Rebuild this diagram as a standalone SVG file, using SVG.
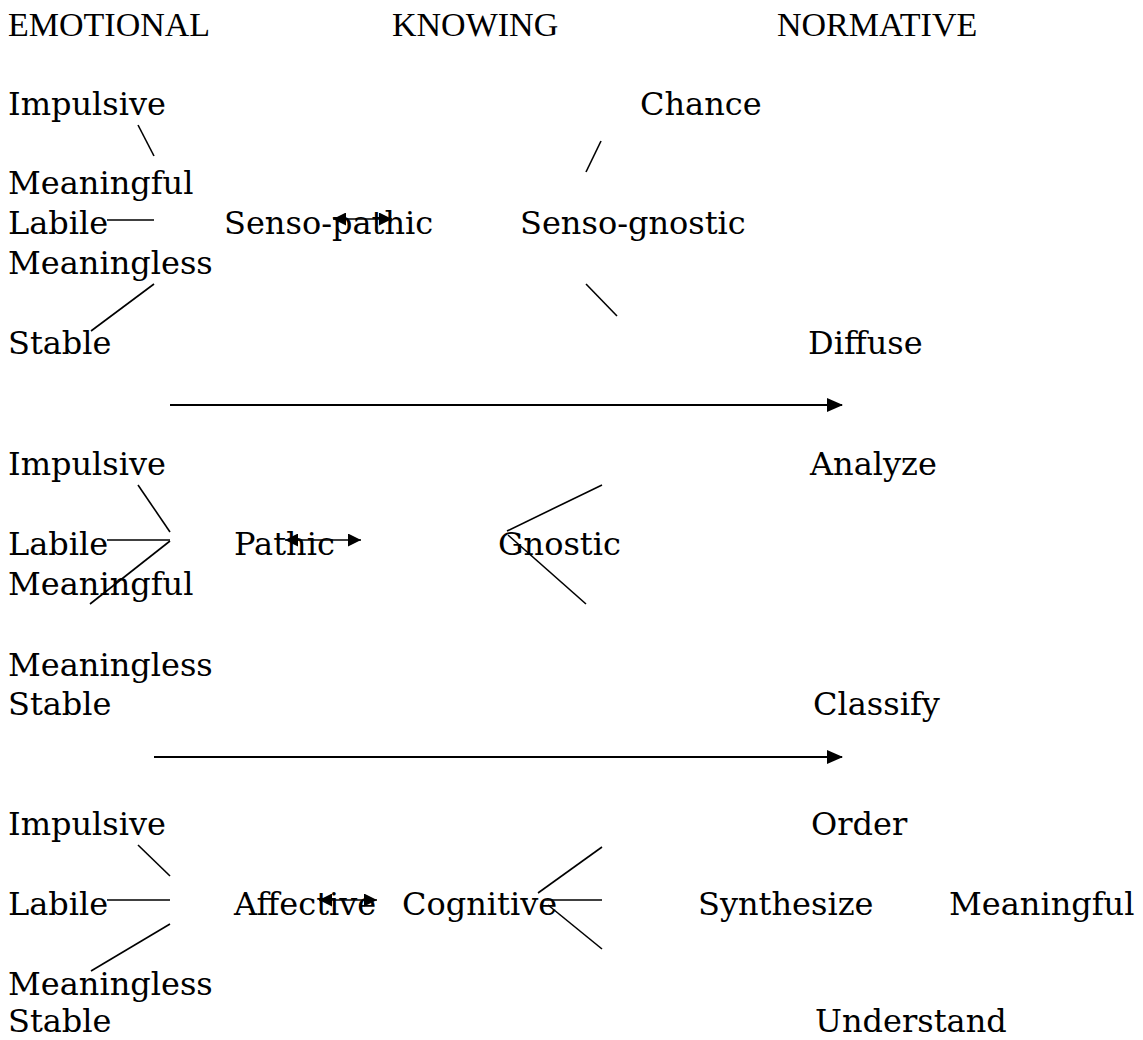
<svg xmlns="http://www.w3.org/2000/svg" width="1143" height="1040" viewBox="0 0 1143 1040">
<style>
.t{font-family:"DejaVu Serif","Liberation Serif",serif;font-size:32px;fill:#000}
.h{font-family:"Liberation Serif","Times New Roman",serif;font-size:34px;fill:#000}
.ln{stroke:#000;stroke-width:1.6;fill:none}
.ar{stroke:#000;stroke-width:2.2;fill:none}
</style>
<defs>
<marker id="big" markerUnits="userSpaceOnUse" markerWidth="16" markerHeight="14" refX="15" refY="7" orient="auto"><path d="M0,0 L16,7 L0,14 Z" fill="#000"/></marker>
<marker id="sEnd" markerUnits="userSpaceOnUse" markerWidth="13" markerHeight="13" refX="13" refY="6.5" orient="auto"><path d="M0,0 L13,6.5 L0,13 Z" fill="#000"/></marker>
<marker id="sStart" markerUnits="userSpaceOnUse" markerWidth="13" markerHeight="13" refX="0" refY="6.5" orient="auto"><path d="M13,0 L0,6.5 L13,13 Z" fill="#000"/></marker>
</defs>
<g id="headers">
<text class="h" x="8" y="36">EMOTIONAL</text>
<text class="h" x="392" y="36">KNOWING</text>
<text class="h" x="777" y="36">NORMATIVE</text>
</g>
<g id="section1">
<g id="n-impulsive1"><text class="t" x="8" y="115">Impulsive</text></g>
<g id="n-chance"><text class="t" x="640" y="115">Chance</text></g>
<g id="n-meaningful1"><text class="t" x="8" y="194">Meaningful</text></g>
<g id="n-labile1"><text class="t" x="8" y="234">Labile</text></g>
<g id="n-sensopathic"><text class="t" x="224" y="234">Senso-pathic</text></g>
<g id="n-sensognostic"><text class="t" x="520" y="234">Senso-gnostic</text></g>
<g id="n-meaningless1"><text class="t" x="8" y="274">Meaningless</text></g>
<g id="n-stable1"><text class="t" x="8" y="354">Stable</text></g>
<g id="n-diffuse"><text class="t" x="808" y="354">Diffuse</text></g>
</g>
<g id="section2">
<g id="n-impulsive2"><text class="t" x="8" y="475">Impulsive</text></g>
<g id="n-analyze"><text class="t" x="810" y="475">Analyze</text></g>
<g id="n-labile2"><text class="t" x="8" y="555">Labile</text></g>
<g id="n-pathic"><text class="t" x="234" y="555">Pathic</text></g>
<g id="n-gnostic"><text class="t" x="498" y="555">Gnostic</text></g>
<g id="n-meaningful2"><text class="t" x="8" y="595">Meaningful</text></g>
<g id="n-meaningless2"><text class="t" x="8" y="676">Meaningless</text></g>
<g id="n-stable2"><text class="t" x="8" y="715">Stable</text></g>
<g id="n-classify"><text class="t" x="813" y="715">Classify</text></g>
</g>
<g id="section3">
<g id="n-impulsive3"><text class="t" x="8" y="835">Impulsive</text></g>
<g id="n-order"><text class="t" x="811" y="835">Order</text></g>
<g id="n-labile3"><text class="t" x="8" y="915">Labile</text></g>
<g id="n-affective"><text class="t" x="234" y="915">Affective</text></g>
<g id="n-cognitive"><text class="t" x="402" y="915">Cognitive</text></g>
<g id="n-synthesize"><text class="t" x="698" y="915">Synthesize</text></g>
<g id="n-meaningful3"><text class="t" x="949" y="915">Meaningful</text></g>
<g id="n-meaningless3"><text class="t" x="8" y="995">Meaningless</text></g>
<g id="n-stable3"><text class="t" x="8" y="1032">Stable</text></g>
<g id="n-understand"><text class="t" x="815" y="1032">Understand</text></g>
</g>
<g id="connectors">
<line class="ln" x1="138" y1="125" x2="154" y2="156"/>
<line class="ln" x1="107" y1="220" x2="154" y2="220"/>
<line class="ln" x1="154" y1="284" x2="91" y2="331"/>
<line class="ln" x1="601" y1="141" x2="586" y2="172"/>
<line class="ln" x1="586" y1="284" x2="617" y2="316"/>
<line class="ln" x1="333" y1="219" x2="392" y2="219" marker-start="url(#sStart)" marker-end="url(#sEnd)"/>
<line class="ar" x1="170" y1="405" x2="842" y2="405" marker-end="url(#big)"/>

<line class="ln" x1="138" y1="485" x2="170" y2="532"/>
<line class="ln" x1="107" y1="540" x2="170" y2="540"/>
<line class="ln" x1="170" y1="541" x2="90" y2="604"/>
<line class="ln" x1="602" y1="485" x2="507" y2="531"/>
<line class="ln" x1="508" y1="535" x2="586" y2="604"/>
<line class="ln" x1="285" y1="540" x2="361" y2="540" marker-start="url(#sStart)" marker-end="url(#sEnd)"/>
<line class="ar" x1="154" y1="757" x2="842" y2="757" marker-end="url(#big)"/>

<line class="ln" x1="138" y1="845" x2="170" y2="876"/>
<line class="ln" x1="107" y1="900" x2="170" y2="900"/>
<line class="ln" x1="170" y1="924" x2="91" y2="971"/>
<line class="ln" x1="602" y1="847" x2="538" y2="893"/>
<line class="ln" x1="545" y1="900" x2="602" y2="900"/>
<line class="ln" x1="548" y1="905" x2="602" y2="949"/>
<line class="ln" x1="319" y1="900" x2="377" y2="900" marker-start="url(#sStart)" marker-end="url(#sEnd)"/>
</g>
</svg>
